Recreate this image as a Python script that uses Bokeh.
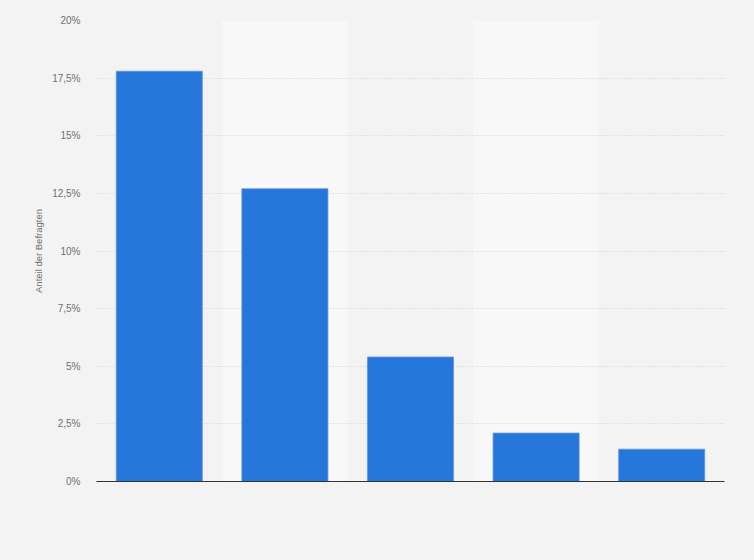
from bokeh.plotting import figure
from bokeh.models import FixedTicker, CustomJSTickFormatter, ColumnDataSource
from bokeh.embed import file_html
from bokeh.resources import INLINE

categories = ["1", "2", "3", "4", "5"]
values = [17.8, 12.7, 5.4, 2.1, 1.4]
band_categories = ["2", "4"]
y_ticks = [0, 2.5, 5, 7.5, 10, 12.5, 15, 17.5, 20]
y_label = "Anteil der Befragten"

BG = "#f3f3f3"

p = figure(width=754, height=560, x_range=categories, y_range=(0, 20),
           output_backend="svg", toolbar_location=None,
           background_fill_color=BG, border_fill_color=BG,
           min_border_left=96, min_border_right=30, min_border_top=20,
           min_border_bottom=79)
p.outline_line_color = None

# alternating lighter bands
p.vbar(x=band_categories, top=[20, 20], bottom=0, width=1.0,
       fill_color="#f8f8f8", line_color=None, level="image")

src = ColumnDataSource(dict(x=categories, top=values))
p.vbar(x="x", top="top", source=src, width=0.685,
       fill_color="#2776dc", line_color="#5a96e6", line_width=0.8)

# y axis
p.yaxis.ticker = FixedTicker(ticks=y_ticks)
p.yaxis.formatter = CustomJSTickFormatter(
    code="return tick.toString().replace('.', ',') + '%';")
p.yaxis.axis_line_color = None
p.yaxis.major_tick_line_color = None
p.yaxis.minor_tick_line_color = None
p.yaxis.major_tick_out = 0
p.yaxis.major_label_standoff = 16
p.yaxis.major_label_text_font = "Liberation Sans"
p.yaxis.major_label_text_font_size = "10px"
p.yaxis.major_label_text_color = "#707070"
p.yaxis.axis_label = y_label
p.yaxis.axis_label_text_font = "Liberation Sans"
p.yaxis.axis_label_text_font_size = "9.5px"
p.yaxis.axis_label_text_font_style = "normal"
p.yaxis.axis_label_text_color = "#707070"
p.yaxis.axis_label_standoff = 5

# x axis
p.xaxis.axis_line_color = "#333333"
p.xaxis.axis_line_width = 1
p.xaxis.major_tick_line_color = None
p.xaxis.minor_tick_line_color = None
p.xaxis.major_label_text_color = None
p.xaxis.major_label_text_font_size = "1px"

# grid
p.xgrid.grid_line_color = None
p.ygrid.grid_line_color = "#cfcfcf"
p.ygrid.grid_line_dash = "1 2"
p.ygrid.grid_line_width = 1

html = file_html(p, INLINE)
html = html.replace(
    "<head>",
    "<head><style>html,body{margin:0;padding:0;overflow:hidden;background:%s;}</style>" % BG,
    1)
open("out.html", "w").write(html)
